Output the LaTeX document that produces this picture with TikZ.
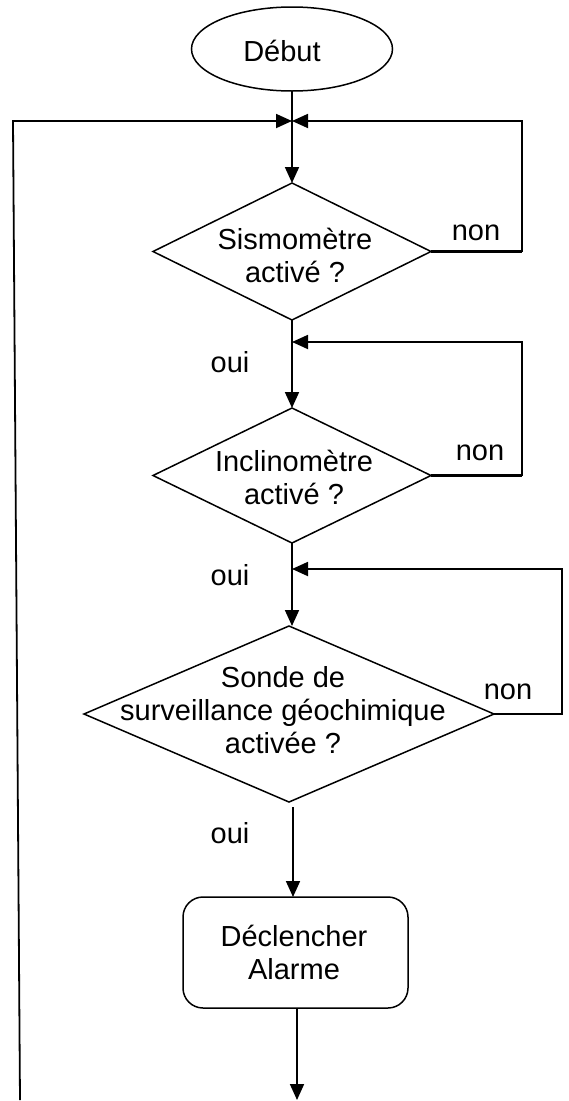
\documentclass[tikz,border=0pt]{standalone}
\usepackage{fontspec}
\setmainfont{Liberation Sans}
\usetikzlibrary{arrows.meta,shapes.geometric}
\begin{document}
\begin{tikzpicture}[x=1pt,y=-1pt,
  every node/.style={inner sep=0pt,outer sep=0pt},
  lbl/.style={font=\fontsize{29}{33}\selectfont, align=center},
  conn/.style={line width=1.8pt},
  exitline/.style={line width=2.6pt},
  arr/.style={conn,-{Triangle[length=16pt,width=14pt]}},
  shapeline/.style={draw,line width=1.5pt},
  decision/.style={shapeline,diamond},
  terminal/.style={shapeline,ellipse},
  process/.style={shapeline,rectangle,rounded corners=20pt}]
\useasboundingbox (0,0) rectangle (569,1101);

% shapes
\node[terminal,minimum width=201pt,minimum height=84pt] (start) at (292,49) {};
\node[decision,minimum width=278pt,minimum height=137pt] (d1) at (292,251.5) {};
\node[decision,minimum width=278pt,minimum height=135pt] (d2) at (292,475.5) {};
\node[decision,minimum width=410pt,minimum height=176pt] (d3) at (289,714) {};
\node[process,minimum width=225pt,minimum height=111pt] (alarm) at (295.5,952.5) {};

% texts
\node[lbl,anchor=base] (tstart) at (282,61) {Début};
\node[lbl] (t1) at (295,255.5) {Sismomètre\\activé ?};
\node[lbl] (t2) at (294,477.5) {Inclinomètre\\activé ?};
\node[lbl] (t3) at (283,710.5) {Sonde de\\surveillance géochimique\\activée ?};
\node[lbl] (t4) at (294,952.5) {Déclencher\\Alarme};

\node[lbl,anchor=base] (oui1) at (230,372) {oui};
\node[lbl,anchor=base] (oui2) at (230,585) {oui};
\node[lbl,anchor=base] (oui3) at (230,843) {oui};
\node[lbl,anchor=base] (non1) at (476,240) {non};
\node[lbl,anchor=base] (non2) at (480,460) {non};
\node[lbl,anchor=base] (non3) at (508,699) {non};

% coordinates
\coordinate (j1) at (292,121);
\coordinate (j2) at (292,342);
\coordinate (j3) at (292,569);
\coordinate (r1) at (522,121);
\coordinate (r2) at (522,342);
\coordinate (r3) at (562,569);
\coordinate (lb) at (20,1100);
\coordinate (lt) at (13,121);
\coordinate (o3) at (293,807);
\coordinate (endp) at (297,1100);

% connectors
\draw[arr] (start.south) -- (d1.north);
\draw[arr] (d1.south) -- (d2.north);
\draw[arr] (d2.south) -- (d2.south |- d3.north);
\draw[arr] (o3) -- (o3 |- alarm.north);
\draw[arr] (alarm.south -| endp) -- (endp);

\draw[arr] (lb) -- (lt) -- (j1);
\draw[arr] (d1.east) -| (r1) -- (j1);
\draw[arr] (d2.east) -| (r2) -- (j2);
\draw[arr] (d3.east) -| (r3) -- (j3);
\draw[exitline] (d1.east) -- (d1.east -| r1);
\draw[exitline] (d2.east) -- (d2.east -| r2);
\draw[exitline] (d3.east) -- (d3.east -| r3);
\end{tikzpicture}
\end{document}
